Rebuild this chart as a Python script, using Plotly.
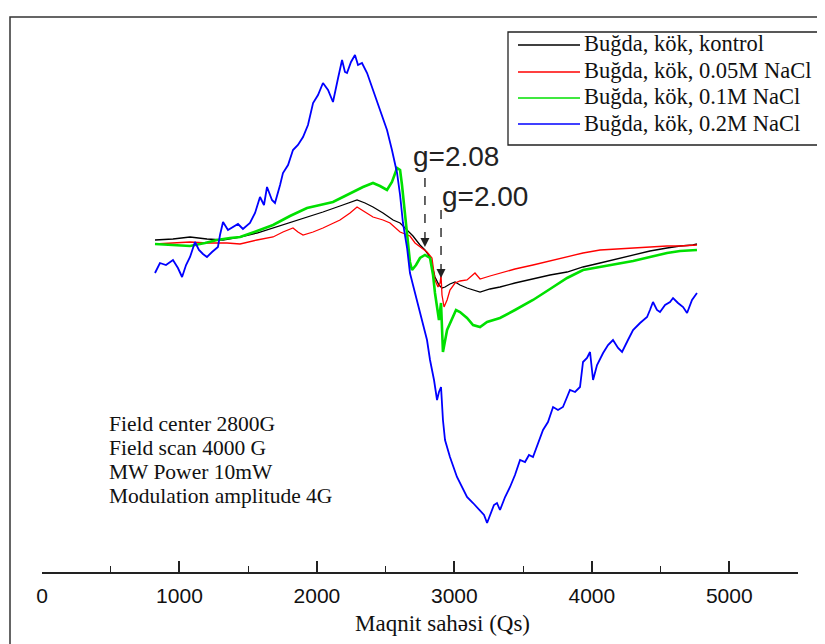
import plotly.graph_objects as go

# ---------------- data (field in G, intensity in arbitrary units) ----------------
names = ["Buğda, kök, kontrol", "Buğda, kök, 0.05M NaCl",
         "Buğda, kök, 0.1M NaCl", "Buğda, kök, 0.2M NaCl"]

x_kontrol = [822, 953, 1077, 1200, 1317, 1441, 1564, 1681, 1804, 1928, 2044, 2168, 2292, 2350, 2408,
             2481, 2554, 2605, 2656, 2699, 2750, 2786, 2823, 2845, 2859, 2888, 2910, 2932, 2968, 3005,
             3041, 3092, 3136, 3187, 3259, 3332, 3441, 3572, 3696, 3820, 3936, 4060, 4183, 4300, 4423,
             4547, 4642, 4736, 4765]
y_kontrol = [5, 6, 8, 6, 5, 8, 12, 17, 23, 28, 33, 39, 45, 42, 38,
             32, 25, 22, 15, 9, 0, -5, -12, -23, -32, -40, -43, -42, -39, -37,
             -40, -43, -45, -47, -44, -42, -38, -34, -30, -27, -22, -18, -14, -10, -6,
             -3, -1, 0, 1]

x_005 = [822, 953, 1077, 1200, 1346, 1441, 1564, 1681, 1753, 1826, 1862, 1899, 1972, 2044, 2168,
         2241, 2292, 2350, 2408, 2481, 2532, 2605, 2677, 2714, 2750, 2801, 2837, 2859, 2881, 2896,
         2903, 2910, 2925, 2947, 2968, 3005, 3041, 3092, 3150, 3187, 3259, 3332, 3441, 3572, 3696,
         3820, 3936, 4060, 4183, 4300, 4423, 4547, 4642, 4765]
y_005 = [1, 2, 3, 2, 2, 1, 5, 8, 13, 17, 13, 10, 13, 17, 25,
         32, 38, 33, 28, 25, 22, 13, 9, 2, -2, -7, -13, -35, -42, -38,
         -30, -50, -62, -55, -45, -38, -36, -35, -28, -34, -31, -28, -24, -20, -16,
         -12, -8, -5, -4, -3, -2, -1, -1, 0]

x_01 = [822, 953, 1077, 1186, 1273, 1368, 1441, 1564, 1681, 1804, 1928, 2023, 2117, 2204, 2263,
        2335, 2408, 2459, 2510, 2546, 2583, 2605, 2619, 2641, 2656, 2677, 2692, 2721, 2750, 2786,
        2823, 2845, 2859, 2881, 2888, 2903, 2917, 2947, 2983, 3012, 3041, 3092, 3136, 3187, 3238,
        3281, 3332, 3441, 3572, 3696, 3820, 3936, 4060, 4183, 4300, 4423, 4547, 4642, 4765]
y_01 = [1, 0, -1, 2, 5, 7, 8, 14, 20, 29, 37, 40, 43, 49, 53,
        58, 62, 59, 55, 63, 77, 75, 60, 30, 5, -17, -25, -20, -13, -10,
        -13, -30, -48, -70, -75, -58, -107, -85, -73, -65, -67, -73, -80, -82, -77,
        -75, -73, -65, -55, -44, -33, -25, -22, -19, -16, -12, -8, -6, -5]

x_02 = [822, 858, 902, 953, 989, 1019, 1048, 1077, 1113, 1142, 1171, 1200, 1237, 1280, 1295,
        1317, 1353, 1390, 1426, 1462, 1513, 1550, 1586, 1615, 1637, 1673, 1695, 1732, 1753, 1790,
        1826, 1862, 1899, 1935, 1972, 2008, 2044, 2081, 2117, 2154, 2183, 2204, 2219, 2248, 2277,
        2299, 2328, 2365, 2408, 2459, 2510, 2546, 2583, 2605, 2626, 2656, 2677, 2699, 2736, 2772,
        2801, 2823, 2852, 2874, 2888, 2903, 2917, 2932, 2968, 3019, 3056, 3092, 3136, 3172, 3187,
        3216, 3238, 3267, 3288, 3310, 3332, 3369, 3405, 3441, 3478, 3514, 3543, 3572, 3609, 3645,
        3681, 3718, 3754, 3790, 3820, 3841, 3878, 3914, 3936, 3965, 3987, 4009, 4038, 4082, 4118,
        4154, 4191, 4220, 4263, 4300, 4351, 4402, 4423, 4445, 4474, 4496, 4533, 4569, 4591, 4627,
        4664, 4693, 4729, 4765]
y_02 = [-28, -18, -20, -15, -23, -32, -20, -12, 3, -5, -9, -12, -7, -2, 10,
        23, 15, 18, 21, 16, 22, 32, 48, 40, 58, 45, 42, 60, 72, 80,
        95, 100, 108, 120, 142, 150, 162, 155, 143, 167, 185, 173, 172, 183, 190,
        180, 182, 172, 155, 137, 115, 95, 72, 50, 22, -3, -28, -40, -60, -78,
        -95, -115, -135, -155, -147, -142, -175, -195, -212, -232, -243, -252, -258, -263, -265,
        -270, -278, -267, -260, -258, -265, -252, -242, -230, -215, -217, -210, -212, -198, -185,
        -177, -162, -165, -162, -152, -145, -147, -142, -117, -113, -107, -135, -120, -108, -100,
        -95, -103, -107, -95, -85, -78, -72, -65, -57, -65, -67, -60, -57, -53, -58,
        -62, -68, -55, -48]

series_x = [x_kontrol, x_005, x_01, x_02]
series_y = [y_kontrol, y_005, y_01, y_02]

g_labels = ["g=2.08", "g=2.00"]
g_fields = [2786, 2903]

info_lines = ["Field center 2800G", "Field scan 4000 G", "MW Power 10mW", "Modulation amplitude 4G"]
x_title = "Maqnit sahəsi (Qs)"
x_ticks = [0, 1000, 2000, 3000, 4000, 5000]

# ---------------- styling ----------------
colors = ["#000000", "#ff0000", "#00e000", "#0000ff"]
widths = [1.3, 1.3, 2.6, 1.8]

W, H = 825, 644
OFF = 8  # page body margin offset
# target pixel positions in the screenshot
P_LEFT, P_RIGHT, P_TOP, P_BOTTOM = 42, 798, 20, 572
ML = P_LEFT - OFF
MT = P_TOP - OFF
MR = W - (P_RIGHT - OFF)
MB = H - (P_BOTTOM - OFF)
PW = P_RIGHT - P_LEFT
PH = P_BOTTOM - P_TOP


def px(xp):
    return (xp - P_LEFT) / PW


def py(yp):
    return (P_BOTTOM - yp) / PH


serif = "Liberation Serif, Times New Roman, serif"
sans = "Liberation Sans, Arial, sans-serif"

fig = go.Figure()
for xs, ys, n, c, w in zip(series_x, series_y, names, colors, widths):
    fig.add_trace(go.Scatter(x=xs, y=ys, mode="lines", name=n,
                             line=dict(color=c, width=w), showlegend=False))

shapes = []
annotations = []

# outer frame
shapes.append(dict(type="rect", xref="paper", yref="paper",
                   x0=px(10), x1=px(840), y0=py(660), y1=py(17),
                   line=dict(color="#333333", width=1.5), fillcolor="rgba(0,0,0,0)"))

# legend box
shapes.append(dict(type="rect", xref="paper", yref="paper",
                   x0=px(508), x1=px(818), y0=py(145), y1=py(32),
                   line=dict(color="#222222", width=1.3), fillcolor="white"))
rows = [45, 72, 98, 124]
for n, c, r in zip(names, colors, rows):
    shapes.append(dict(type="line", xref="paper", yref="paper",
                       x0=px(518), x1=px(580), y0=py(r), y1=py(r),
                       line=dict(color=c, width=1.5)))
    annotations.append(dict(xref="paper", yref="paper", x=px(582), y=py(r - 1),
                            text=n, showarrow=False, xanchor="left", yanchor="middle",
                            font=dict(family=serif, size=22.5, color="#111111")))

# g-factor markers
g_text_pos = [(3012, 89), (3223, 49)]
g_line = [(67, 3), (35, -28)]
for lab, gx, (tx, ty), (y0, y1) in zip(g_labels, g_fields, g_text_pos, g_line):
    shapes.append(dict(type="line", xref="x", yref="y", x0=gx, x1=gx, y0=y0, y1=y1,
                       line=dict(color="#333333", width=1.5, dash="dash")))
    annotations.append(dict(xref="x", yref="y", x=gx, y=y1 - 5, ax=0, ay=-8, text="",
                            showarrow=True, arrowhead=2, arrowsize=1.2, arrowwidth=1.5,
                            arrowcolor="#222222"))
    annotations.append(dict(xref="x", yref="y", x=tx, y=ty, text=lab, showarrow=False,
                            font=dict(family=sans, size=28, color="#222222")))

# info block
info_y = [424, 448, 472, 496]
for t, yy in zip(info_lines, info_y):
    annotations.append(dict(xref="paper", yref="paper", x=px(107), y=py(yy), text=t,
                            showarrow=False, xanchor="left", yanchor="middle",
                            font=dict(family=serif, size=21.5, color="#111111")))

# axis title
annotations.append(dict(xref="paper", yref="paper", x=px(442), y=py(623), text=x_title,
                        showarrow=False, xanchor="center", yanchor="middle",
                        font=dict(family=serif, size=23, color="#111111")))

fig.update_layout(
    width=W, height=H,
    margin=dict(l=ML, r=MR, t=MT, b=MB),
    paper_bgcolor="white", plot_bgcolor="white",
    shapes=shapes, annotations=annotations,
    showlegend=False,
)
fig.update_xaxes(range=[0, 5500], showline=True, linecolor="#222222", linewidth=1.5,
                 ticks="inside", ticklen=11, tickwidth=1.5, tickcolor="#222222",
                 tickvals=x_ticks, ticktext=[str(v) for v in x_ticks],
                 minor=dict(ticks="inside", ticklen=6, tickwidth=1.3, tickcolor="#222222", dtick=500),
                 showgrid=False, zeroline=False, ticklabelstandoff=4,
                 tickfont=dict(family=sans, size=21, color="#111111"))
fig.update_yaxes(visible=False, range=[-327, 225])

fig.write_html("out.html")
